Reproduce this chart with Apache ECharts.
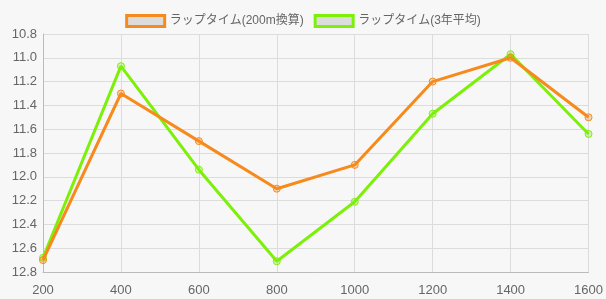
<!DOCTYPE html>
<html><head><meta charset="utf-8">
<script src="https://cdn.jsdelivr.net/npm/echarts@6/dist/echarts.min.js"></script>
<style>html,body{margin:0;padding:0;background:#f7f7f7}#c{width:606px;height:299px}</style>
</head><body><div id="c"></div>
<script>
const distances = [200, 400, 600, 800, 1000, 1200, 1400, 1600];
const lap200 = [12.7, 11.3, 11.7, 12.1, 11.9, 11.2, 11.0, 11.5];
const lap3yr = [12.68, 11.07, 11.94, 12.71, 12.21, 11.47, 10.97, 11.64];
const seriesNames = ['ラップタイム(200m換算)', 'ラップタイム(3年平均)'];
const colors = ['#f78a1d', '#7df00a'];
const fills = ['rgba(247,138,29,0.3)', 'rgba(125,240,10,0.3)'];

const chart = echarts.init(document.getElementById('c'), null, {renderer: 'canvas'});
const font = "'Liberation Sans', 'Noto Sans CJK JP', sans-serif";
function mk(name, vals, i) {
  return {
    name: name, type: 'line',
    data: distances.map((d, k) => [d, vals[k]]),
    symbol: 'circle', symbolSize: 7,
    lineStyle: {color: colors[i], width: 3},
    itemStyle: {color: fills[i], borderColor: colors[i], borderWidth: 1},
    emphasis: {disabled: true},
    z: 3 - i
  };
}
chart.setOption({
  backgroundColor: '#f7f7f7',
  animation: false,
  textStyle: {fontFamily: font},
  legend: {
    top: 9, left: 'center', itemWidth: 38, itemHeight: 11, itemGap: 10,
    icon: 'rect',
    textStyle: {color: '#666', fontSize: 12, fontFamily: font},
    data: seriesNames.map((n, i) => ({name: n, itemStyle: {color: '#dcdcdc', borderColor: colors[i], borderWidth: 3}}))
  },
  grid: {left: 43, right: 17, top: 34, bottom: 27, containLabel: false},
  xAxis: {
    type: 'value', min: 200, max: 1600, interval: 200,
    axisLine: {show: true, lineStyle: {color: '#bbb'}},
    axisTick: {show: false},
    splitLine: {show: true, lineStyle: {color: '#dcdcdc'}},
    axisLabel: {color: '#666', fontSize: 13, margin: 12, fontFamily: font, formatter: v => String(v)}
  },
  yAxis: {
    type: 'value', inverse: true, min: 10.8, max: 12.8, interval: 0.2,
    axisLine: {show: true, lineStyle: {color: '#bbb'}},
    axisTick: {show: false},
    splitLine: {show: true, lineStyle: {color: '#dcdcdc'}},
    axisLabel: {color: '#666', fontSize: 13, margin: 6, fontFamily: font, formatter: v => v.toFixed(1)}
  },
  series: [mk(seriesNames[0], lap200, 0), mk(seriesNames[1], lap3yr, 1)]
});
</script></body></html>
